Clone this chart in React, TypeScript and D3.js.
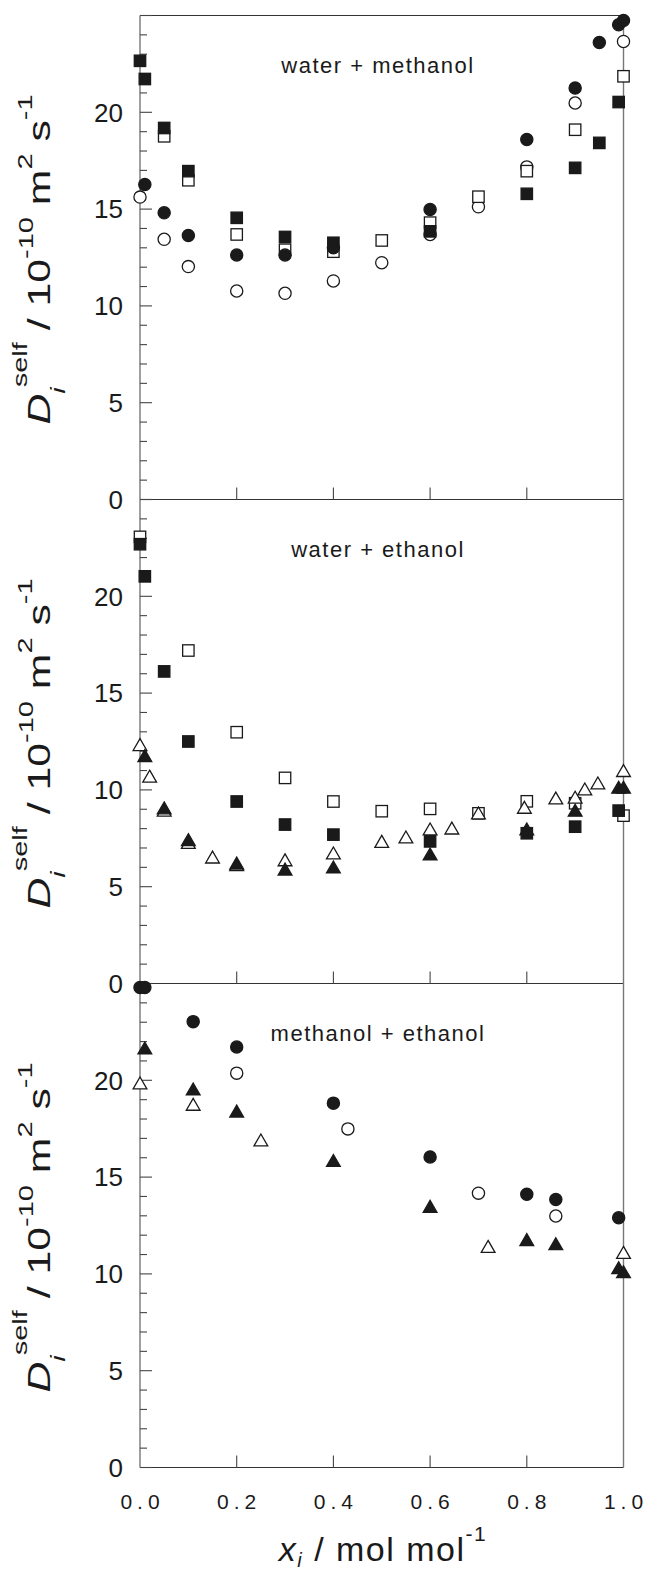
import React from 'react'
import * as d3 from 'd3'

type Pt = [number, number]

// water + methanol
const wmOpenCircles: Pt[] = [
  [0, 15.62], [0.05, 13.44], [0.1, 12.03], [0.2, 10.77], [0.3, 10.65], [0.4, 11.29],
  [0.5, 12.23], [0.6, 13.69], [0.7, 15.12], [0.8, 17.18], [0.9, 20.48], [1.0, 23.66],
]
const wmOpenSquares: Pt[] = [
  [0.05, 18.76], [0.1, 16.49], [0.2, 13.69], [0.3, 12.9], [0.4, 12.8], [0.5, 13.38],
  [0.6, 14.3], [0.7, 15.64], [0.8, 16.96], [0.9, 19.1], [1.0, 21.86],
]
const wmFilledSquares: Pt[] = [
  [0, 22.66], [0.01, 21.72], [0.05, 19.19], [0.1, 16.96], [0.2, 14.55], [0.3, 13.56],
  [0.4, 13.26], [0.6, 13.85], [0.8, 15.79], [0.9, 17.13], [0.95, 18.42], [0.99, 20.53],
]
const wmFilledCircles: Pt[] = [
  [0.01, 16.27], [0.05, 14.81], [0.1, 13.64], [0.2, 12.63], [0.3, 12.63], [0.4, 13.0],
  [0.6, 14.98], [0.8, 18.59], [0.9, 21.25], [0.95, 23.61], [0.99, 24.52], [1.0, 24.74],
]

// water + ethanol
const weOpenSquares: Pt[] = [
  [0, 23.07], [0.1, 17.2], [0.2, 12.98], [0.3, 10.62], [0.4, 9.4], [0.5, 8.9],
  [0.6, 9.02], [0.7, 8.79], [0.8, 9.41], [0.9, 9.31], [1.0, 8.67],
]
const weOpenTriangles: Pt[] = [
  [0, 12.29], [0.02, 10.66], [0.05, 8.9], [0.1, 7.24], [0.15, 6.48], [0.2, 6.09],
  [0.3, 6.34], [0.4, 6.69], [0.5, 7.29], [0.55, 7.52], [0.6, 7.93], [0.645, 7.98],
  [0.7, 8.76], [0.795, 9.05], [0.86, 9.53], [0.9, 9.57], [0.92, 10.0], [0.947, 10.31],
  [1.0, 10.95],
]
const weFilledSquares: Pt[] = [
  [0, 22.69], [0.01, 21.03], [0.05, 16.12], [0.1, 12.5], [0.2, 9.4], [0.3, 8.21],
  [0.4, 7.69], [0.6, 7.34], [0.8, 7.76], [0.9, 8.1], [0.99, 8.93],
]
const weFilledTriangles: Pt[] = [
  [0.01, 11.72], [0.05, 9.02], [0.1, 7.38], [0.2, 6.17], [0.3, 5.86], [0.4, 5.97],
  [0.6, 6.64], [0.8, 7.93], [0.9, 8.9], [0.99, 10.09], [1.0, 10.09],
]

// methanol + ethanol
const meOpenCircles: Pt[] = [[0.2, 20.37], [0.43, 17.49], [0.7, 14.17], [0.86, 12.99]]
const meOpenTriangles: Pt[] = [[0, 19.81], [0.11, 18.71], [0.25, 16.87], [0.72, 11.37], [1.0, 11.06]]
const meFilledCircles: Pt[] = [
  [0, 24.79], [0.01, 24.79], [0.11, 23.03], [0.2, 21.72], [0.4, 18.82], [0.6, 16.04],
  [0.8, 14.11], [0.86, 13.84], [0.99, 12.9],
]
const meFilledTriangles: Pt[] = [
  [0.01, 21.62], [0.11, 19.5], [0.2, 18.36], [0.4, 15.81], [0.6, 13.44], [0.8, 11.72],
  [0.86, 11.51], [0.99, 10.27], [1.0, 10.06],
]

const panelLabels = ['water + methanol', 'water + ethanol', 'methanol + ethanol']
const xTickValues = [0, 0.2, 0.4, 0.6, 0.8, 1.0]
const yTickValues = [0, 5, 10, 15, 20]

type Series = { shape: 'circle' | 'square' | 'triangle'; filled: boolean; data: Pt[] }

// open markers go first so the filled ones sit on top
const panelSeries: Series[][] = [
  [
    { shape: 'circle', filled: false, data: wmOpenCircles },
    { shape: 'square', filled: false, data: wmOpenSquares },
    { shape: 'square', filled: true, data: wmFilledSquares },
    { shape: 'circle', filled: true, data: wmFilledCircles },
  ],
  [
    { shape: 'square', filled: false, data: weOpenSquares },
    { shape: 'triangle', filled: false, data: weOpenTriangles },
    { shape: 'square', filled: true, data: weFilledSquares },
    { shape: 'triangle', filled: true, data: weFilledTriangles },
  ],
  [
    { shape: 'circle', filled: false, data: meOpenCircles },
    { shape: 'triangle', filled: false, data: meOpenTriangles },
    { shape: 'circle', filled: true, data: meFilledCircles },
    { shape: 'triangle', filled: true, data: meFilledTriangles },
  ],
]

const width = 648
const height = 1570
const left = 140
const right = 623.5
const top = 15.5
const panelH = 484

const font = '"Liberation Sans", Arial, sans-serif'

const xScale = d3.scaleLinear().domain([0, 1]).range([left, right])

const triPath = d3.symbol(d3.symbolTriangle, 82)()
const minorTicks = d3.range(0, 26)

function Marker({ s, cx, cy }: { s: Series; cx: number; cy: number }) {
  const fill = s.filled ? '#1a1a1a' : '#fff'
  const stroke = '#1a1a1a'
  if (s.shape === 'circle')
    return <circle cx={cx} cy={cy} r={6.1} fill={fill} stroke={stroke} strokeWidth={1.3} />
  if (s.shape === 'square')
    return <rect x={cx - 5.7} y={cy - 5.7} width={11.4} height={11.4} fill={fill} stroke={stroke} strokeWidth={1.3} />
  return <path d={triPath || ''} transform={`translate(${cx},${cy + 1})`} fill={fill} stroke={stroke} strokeWidth={1.3} />
}

function YTitle({ cy }: { cy: number }) {
  return (
    <text
      transform={`translate(50,${cy}) rotate(-90) scale(1.38,1)`}
      textAnchor="middle"
      fontFamily={font}
      fontSize={31}
      fill="#1a1a1a"
    >
      <tspan fontStyle="italic">D</tspan>
      <tspan fontStyle="italic" fontSize={21} dy={15}>i</tspan>
      <tspan fontSize={21} dy={-38}>self</tspan>
      <tspan dy={23}> / 10</tspan>
      <tspan fontSize={21} dy={-17}>-10</tspan>
      <tspan dy={17}> m</tspan>
      <tspan fontSize={21} dy={-18}>2</tspan>
      <tspan dy={18}> s</tspan>
      <tspan fontSize={21} dy={-18}>-1</tspan>
    </text>
  )
}

function Panel({ index }: { index: number }) {
  const y0 = top + index * panelH
  const yScale = d3.scaleLinear().domain([0, 25]).range([y0 + panelH, y0])
  const bottom = y0 + panelH
  return (
    <g>
      {index === 0 && <line x1={left} x2={right} y1={y0} y2={y0} stroke="#333" strokeWidth={1.2} />}
      <line x1={left} x2={right} y1={bottom} y2={bottom} stroke="#333" strokeWidth={1.2} />
      <line x1={left} x2={left} y1={y0} y2={bottom} stroke="#777" strokeWidth={1.4} />
      <line x1={right} x2={right} y1={y0} y2={bottom} stroke="#777" strokeWidth={1.4} />
      {minorTicks.map((v) => (
        <line
          key={'yt' + v}
          x1={left}
          x2={left + (v % 5 === 0 ? 12 : 7)}
          y1={yScale(v)}
          y2={yScale(v)}
          stroke="#444"
          strokeWidth={1.1}
        />
      ))}
      {xTickValues.slice(1, -1).map((v) => (
        <line key={'xt' + v} x1={xScale(v)} x2={xScale(v)} y1={bottom} y2={bottom - 12} stroke="#444" strokeWidth={1.1} />
      ))}
      {yTickValues.map((v) => (
        <text
          key={'yl' + v}
          x={123}
          y={yScale(v) + 9.3}
          textAnchor="end"
          fontFamily={font}
          fontSize={26}
          fill="#1a1a1a"
        >
          {v}
        </text>
      ))}
      <text
        x={378}
        y={y0 + 57.5}
        textAnchor="middle"
        fontFamily={font}
        fontSize={22}
        letterSpacing={1.5}
        fill="#1a1a1a"
      >
        {panelLabels[index]}
      </text>
      <YTitle cy={y0 + panelH / 2 + 2} />
      {panelSeries[index].map((s, si) =>
        s.data.map((d, di) => <Marker key={si + '-' + di} s={s} cx={xScale(d[0])} cy={yScale(d[1])} />)
      )}
    </g>
  )
}

export default function App() {
  const bottom = top + 3 * panelH
  return (
    <svg
      width={width}
      height={height}
      style={{ position: 'absolute', left: 0, top: 0, background: '#fff' }}
    >
      <rect width={width} height={height} fill="#fff" />
      {[0, 1, 2].map((i) => (
        <Panel key={i} index={i} />
      ))}
      {xTickValues.map((v) => (
        <text
          key={'xl' + v}
          x={xScale(v) + 2.5}
          y={bottom + 41}
          textAnchor="middle"
          fontFamily={font}
          fontSize={21}
          letterSpacing={5}
          fill="#1a1a1a"
        >
          {v.toFixed(1)}
        </text>
      ))}
      <text x={383} y={1561} textAnchor="middle" fontFamily={font} fontSize={34} letterSpacing={1.5} fill="#1a1a1a">
        <tspan fontStyle="italic">x</tspan>
        <tspan fontStyle="italic" fontSize={20} dy={6}>i</tspan>
        <tspan dy={-6}> / mol mol</tspan>
        <tspan fontSize={21} dy={-20}>-1</tspan>
      </text>
    </svg>
  )
}
